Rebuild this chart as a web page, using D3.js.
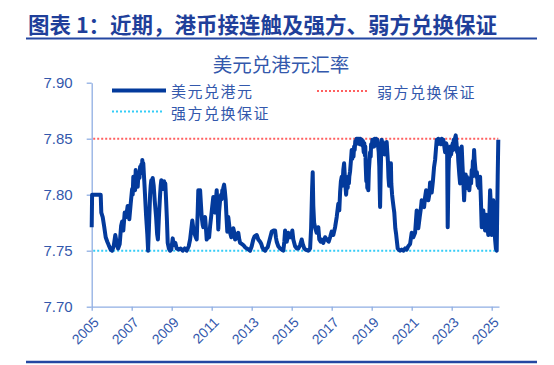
<!DOCTYPE html>
<html><head><meta charset="utf-8">
<script src="https://cdn.jsdelivr.net/npm/d3@7"></script>
<style>
html,body{margin:0;padding:0;background:#fff;}
svg{display:block;}
</style></head>
<body>
<script>
const chartTitle = "图表 1：近期，港币接连触及强方、弱方兑换保证";
const subTitle = "美元兑港元汇率";
const seriesNames = ["美元兑港元", "强方兑换保证", "弱方兑换保证"];
const strongSide = 7.75;
const weakSide = 7.85;
const yTicks = [7.70, 7.75, 7.80, 7.85, 7.90];
const xTicks = [2005, 2007, 2009, 2011, 2013, 2015, 2017, 2019, 2021, 2023, 2025];

// [decimal year, USD/HKD]
const usdHkd = [
[2005.00,7.771],[2005.02,7.800],[2005.45,7.800],[2005.48,7.784],[2005.55,7.780],[2005.62,7.772],[2005.70,7.762],[2005.78,7.758],[2005.85,7.755],[2005.95,7.751],
[2006.02,7.750],[2006.10,7.754],[2006.18,7.764],[2006.25,7.757],[2006.32,7.752],[2006.40,7.756],[2006.47,7.772],[2006.52,7.776],[2006.58,7.768],[2006.65,7.784],[2006.72,7.780],[2006.80,7.790],[2006.88,7.778],[2006.95,7.792],
[2007.02,7.805],[2007.05,7.800],[2007.08,7.816],[2007.11,7.806],[2007.14,7.810],[2007.17,7.804],[2007.20,7.822],[2007.23,7.814],[2007.26,7.818],[2007.30,7.807],[2007.33,7.816],[2007.36,7.820],[2007.39,7.815],[2007.42,7.825],[2007.45,7.819],[2007.48,7.827],[2007.51,7.822],[2007.53,7.831],[2007.56,7.824],[2007.58,7.828],[2007.61,7.818],[2007.63,7.812],[2007.68,7.795],[2007.72,7.781],[2007.78,7.765],[2007.82,7.750],[2007.86,7.770],[2007.92,7.800],[2007.95,7.808],[2007.98,7.813],
[2008.02,7.806],[2008.05,7.815],[2008.10,7.808],[2008.15,7.795],[2008.22,7.780],[2008.27,7.765],[2008.31,7.760],[2008.36,7.780],[2008.42,7.800],[2008.45,7.808],[2008.48,7.813],[2008.52,7.806],[2008.55,7.811],[2008.59,7.805],[2008.62,7.812],[2008.65,7.806],[2008.68,7.810],[2008.72,7.795],[2008.76,7.778],[2008.80,7.757],[2008.86,7.752],[2008.92,7.750],[2008.98,7.751],
[2009.05,7.761],[2009.10,7.755],[2009.18,7.757],[2009.25,7.752],[2009.35,7.751],[2009.45,7.752],[2009.55,7.750],[2009.65,7.752],[2009.75,7.750],[2009.85,7.754],[2009.92,7.760],
[2010.03,7.777],[2010.08,7.770],[2010.13,7.766],[2010.20,7.762],[2010.25,7.760],[2010.30,7.785],[2010.33,7.804],[2010.36,7.796],[2010.38,7.800],[2010.42,7.804],[2010.46,7.792],[2010.50,7.780],[2010.55,7.773],[2010.58,7.771],[2010.62,7.778],[2010.67,7.780],[2010.72,7.768],[2010.75,7.760],[2010.82,7.763],[2010.87,7.762],[2010.92,7.772],[2010.97,7.780],
[2011.03,7.790],[2011.08,7.798],[2011.12,7.792],[2011.17,7.784],[2011.21,7.795],[2011.25,7.804],[2011.29,7.790],[2011.33,7.769],[2011.37,7.785],[2011.42,7.795],[2011.47,7.800],[2011.50,7.796],[2011.53,7.804],[2011.56,7.800],[2011.58,7.806],[2011.62,7.809],[2011.66,7.803],[2011.70,7.795],[2011.74,7.780],[2011.78,7.767],[2011.83,7.780],[2011.88,7.772],[2011.92,7.766],[2011.98,7.762],
[2012.04,7.765],[2012.08,7.770],[2012.13,7.766],[2012.17,7.760],[2012.25,7.762],[2012.33,7.766],[2012.38,7.760],[2012.42,7.757],[2012.50,7.756],[2012.58,7.755],[2012.67,7.753],[2012.75,7.752],[2012.85,7.751],[2012.92,7.750],
[2013.00,7.754],[2013.08,7.760],[2013.15,7.763],[2013.25,7.764],[2013.33,7.760],[2013.42,7.758],[2013.48,7.756],[2013.53,7.753],[2013.60,7.751],[2013.67,7.750],[2013.73,7.752],[2013.80,7.753],[2013.90,7.760],
[2014.00,7.767],[2014.08,7.768],[2014.17,7.768],[2014.21,7.762],[2014.25,7.758],[2014.33,7.754],[2014.42,7.752],[2014.50,7.751],[2014.58,7.750],[2014.63,7.758],[2014.67,7.768],[2014.71,7.760],[2014.75,7.758],[2014.80,7.762],[2014.83,7.766],[2014.90,7.762],[2014.97,7.762],
[2015.03,7.768],[2015.08,7.760],[2015.17,7.754],[2015.25,7.752],[2015.33,7.752],[2015.42,7.755],[2015.50,7.760],[2015.55,7.756],[2015.63,7.752],[2015.70,7.751],[2015.83,7.750],[2015.92,7.752],[2015.97,7.770],
[2016.02,7.805],[2016.05,7.820],[2016.08,7.790],[2016.12,7.775],[2016.18,7.770],[2016.25,7.766],[2016.33,7.771],[2016.38,7.760],[2016.45,7.758],[2016.50,7.760],[2016.58,7.757],[2016.67,7.762],[2016.75,7.760],[2016.85,7.758],[2016.92,7.762],
[2017.00,7.767],[2017.08,7.764],[2017.17,7.771],[2017.25,7.780],[2017.33,7.792],[2017.38,7.786],[2017.42,7.802],[2017.46,7.812],[2017.50,7.816],[2017.53,7.808],[2017.55,7.812],[2017.58,7.822],[2017.62,7.828],[2017.67,7.812],[2017.72,7.800],[2017.77,7.812],[2017.80,7.806],[2017.83,7.816],[2017.86,7.810],[2017.88,7.816],[2017.92,7.821],[2017.96,7.830],
[2018.00,7.840],[2018.03,7.832],[2018.06,7.838],[2018.09,7.834],[2018.12,7.843],[2018.15,7.840],[2018.18,7.848],[2018.21,7.845],[2018.24,7.850],[2018.27,7.846],[2018.30,7.850],[2018.33,7.847],[2018.36,7.850],[2018.40,7.845],[2018.43,7.850],[2018.47,7.846],[2018.50,7.849],[2018.53,7.844],[2018.56,7.848],[2018.60,7.838],[2018.63,7.846],[2018.66,7.835],[2018.68,7.843],[2018.70,7.826],[2018.73,7.812],[2018.76,7.822],[2018.78,7.806],[2018.81,7.815],[2018.83,7.804],[2018.86,7.822],[2018.89,7.830],[2018.92,7.838],[2018.95,7.834],[2018.97,7.845],
[2019.00,7.842],[2019.03,7.849],[2019.06,7.844],[2019.09,7.848],[2019.12,7.843],[2019.15,7.850],[2019.18,7.846],[2019.22,7.850],[2019.25,7.846],[2019.28,7.849],[2019.32,7.843],[2019.35,7.838],[2019.38,7.825],[2019.40,7.805],[2019.42,7.789],[2019.44,7.810],[2019.47,7.835],[2019.50,7.849],[2019.53,7.840],[2019.56,7.847],[2019.59,7.838],[2019.62,7.845],[2019.65,7.836],[2019.68,7.846],[2019.72,7.840],[2019.75,7.847],[2019.78,7.838],[2019.81,7.830],[2019.84,7.815],[2019.87,7.808],[2019.90,7.826],[2019.93,7.820],[2019.96,7.828],[2019.98,7.810],
[2020.02,7.800],[2020.05,7.795],[2020.10,7.788],[2020.13,7.784],[2020.18,7.770],[2020.22,7.765],[2020.25,7.760],[2020.30,7.752],[2020.35,7.751],[2020.42,7.750],[2020.50,7.751],[2020.58,7.750],[2020.67,7.752],[2020.75,7.751],[2020.83,7.754],[2020.92,7.756],
[2021.00,7.766],[2021.08,7.762],[2021.17,7.766],[2021.21,7.776],[2021.25,7.786],[2021.29,7.775],[2021.33,7.770],[2021.40,7.780],[2021.46,7.788],[2021.50,7.795],[2021.56,7.790],[2021.62,7.789],[2021.67,7.798],[2021.72,7.804],[2021.77,7.799],[2021.83,7.795],[2021.88,7.800],[2021.92,7.811],[2021.96,7.805],
[2022.00,7.802],[2022.06,7.812],[2022.12,7.825],[2022.17,7.831],[2022.21,7.840],[2022.25,7.849],[2022.29,7.845],[2022.33,7.850],[2022.37,7.846],[2022.42,7.849],[2022.46,7.845],[2022.50,7.850],[2022.54,7.846],[2022.58,7.849],[2022.63,7.843],[2022.67,7.838],[2022.72,7.846],[2022.77,7.843],[2022.80,7.771],[2022.84,7.820],[2022.88,7.840],[2022.91,7.834],[2022.94,7.843],[2022.97,7.836],
[2023.00,7.840],[2023.05,7.846],[2023.08,7.840],[2023.10,7.849],[2023.13,7.844],[2023.16,7.850],[2023.20,7.853],[2023.24,7.846],[2023.27,7.838],[2023.30,7.842],[2023.33,7.830],[2023.38,7.818],[2023.42,7.810],[2023.46,7.830],[2023.50,7.843],[2023.54,7.826],[2023.58,7.812],[2023.62,7.795],[2023.66,7.810],[2023.70,7.818],[2023.73,7.806],[2023.76,7.816],[2023.80,7.806],[2023.84,7.813],[2023.88,7.804],[2023.93,7.815],[2023.97,7.810],
[2024.00,7.822],[2024.03,7.816],[2024.06,7.830],[2024.09,7.826],[2024.12,7.840],[2024.15,7.830],[2024.19,7.822],[2024.22,7.816],[2024.26,7.820],[2024.30,7.808],[2024.33,7.812],[2024.36,7.806],[2024.39,7.815],[2024.42,7.816],[2024.46,7.795],[2024.50,7.771],[2024.54,7.784],[2024.58,7.786],[2024.62,7.775],[2024.67,7.768],[2024.71,7.782],[2024.75,7.780],[2024.79,7.770],[2024.83,7.764],[2024.88,7.780],[2024.92,7.804],[2024.96,7.790],
[2025.00,7.764],[2025.04,7.780],[2025.08,7.795],[2025.12,7.775],[2025.17,7.760],[2025.21,7.752],[2025.25,7.750],[2025.28,7.790],[2025.30,7.816],[2025.33,7.849]
];

const W = 554, H = 365;
const navy = "#1f3f9a", tickBlue = "#3358ac", axisBlue = "#8faee3", lineBlue = "#033a9c";
const red = "#ff6060", cyan = "#35cdf7";
const cjk = "'Noto Sans CJK SC','Noto Sans',sans-serif";
const num = "'Liberation Sans',Arial,sans-serif";

const svg = d3.select("body").append("svg").attr("width", W).attr("height", H);

// header
svg.append("text").attr("x", 28).attr("y", 23).attr("dominant-baseline", "central")
  .attr("font-family", cjk).attr("font-weight", 700).attr("font-size", 21.5)
  .attr("fill", navy).text(chartTitle);
svg.append("line").attr("x1", 26).attr("x2", 537).attr("y1", 38.5).attr("y2", 38.5)
  .attr("stroke", "#2447a2").attr("stroke-width", 2);
svg.append("line").attr("x1", 26).attr("x2", 537).attr("y1", 362).attr("y2", 362)
  .attr("stroke", "#2447a2").attr("stroke-width", 2.5);

svg.append("text").attr("x", 281).attr("y", 63.5).attr("dominant-baseline", "central")
  .attr("text-anchor", "middle").attr("font-family", cjk).attr("font-size", 19.5)
  .attr("fill", tickBlue).text(subTitle);

const x = d3.scaleLinear().domain([2005, 2025.365]).range([91.7, 499]);
const y = d3.scaleLinear().domain([7.70, 7.90]).range([306.7, 82.7]);

// reference lines
const x0 = x(2005) + 1.5, x1 = x(usdHkd[usdHkd.length - 1][0]);
svg.append("line").attr("x1", x0).attr("x2", x1).attr("y1", y(weakSide)).attr("y2", y(weakSide))
  .attr("stroke", red).attr("stroke-width", 2).attr("stroke-dasharray", "2 2");
svg.append("line").attr("x1", x0).attr("x2", x1 - 3).attr("y1", y(strongSide)).attr("y2", y(strongSide))
  .attr("stroke", cyan).attr("stroke-width", 2).attr("stroke-dasharray", "2 2");

// axes
const yAxis = svg.append("g").attr("transform", `translate(${x(2005)},0)`)
  .call(d3.axisLeft(y).tickValues(yTicks).tickFormat(d3.format(".2f")).tickSize(5).tickPadding(14).tickSizeOuter(0));
const xAxis = svg.append("g").attr("transform", `translate(0,${y(7.70)})`)
  .call(d3.axisBottom(x).tickValues(xTicks).tickFormat(d3.format("d")).tickSize(4).tickSizeOuter(0));
[yAxis, xAxis].forEach(g => {
  g.select(".domain").attr("stroke", axisBlue).attr("stroke-width", 1.3);
  g.selectAll(".tick line").attr("stroke", axisBlue).attr("stroke-width", 1.3);
  g.selectAll("text").attr("fill", tickBlue).attr("font-family", num);
});
yAxis.selectAll("text").attr("font-size", 15);
xAxis.selectAll("text").attr("font-size", 14).attr("text-anchor", "end")
  .attr("y", 0).attr("dy", "0.35em").attr("transform", "translate(4,13) rotate(-45)");

// data line
const line = d3.line().x(d => x(d[0])).y(d => y(d[1])).curve(d3.curveLinear);
svg.append("path").datum(usdHkd).attr("d", line).attr("fill", "none")
  .attr("stroke", lineBlue).attr("stroke-width", 4).attr("stroke-linejoin", "round");

// legend
const lg = svg.append("g").attr("font-family", cjk).attr("font-size", 15)
  .attr("letter-spacing", "1.5px").attr("fill", tickBlue);
lg.append("line").attr("x1", 112).attr("x2", 166).attr("y1", 90.5).attr("y2", 90.5)
  .attr("stroke", lineBlue).attr("stroke-width", 4);
lg.append("text").attr("x", 171).attr("y", 90).attr("dominant-baseline", "central").text(seriesNames[0]);
lg.append("line").attr("x1", 112).attr("x2", 164).attr("y1", 111.5).attr("y2", 111.5)
  .attr("stroke", cyan).attr("stroke-width", 2).attr("stroke-dasharray", "2 2");
lg.append("text").attr("x", 171).attr("y", 112.2).attr("dominant-baseline", "central").text(seriesNames[1]);
lg.append("line").attr("x1", 317).attr("x2", 368).attr("y1", 91).attr("y2", 91)
  .attr("stroke", red).attr("stroke-width", 2).attr("stroke-dasharray", "2 2");
lg.append("text").attr("x", 377).attr("y", 91).attr("dominant-baseline", "central").text(seriesNames[2]);
</script>
</body></html>
